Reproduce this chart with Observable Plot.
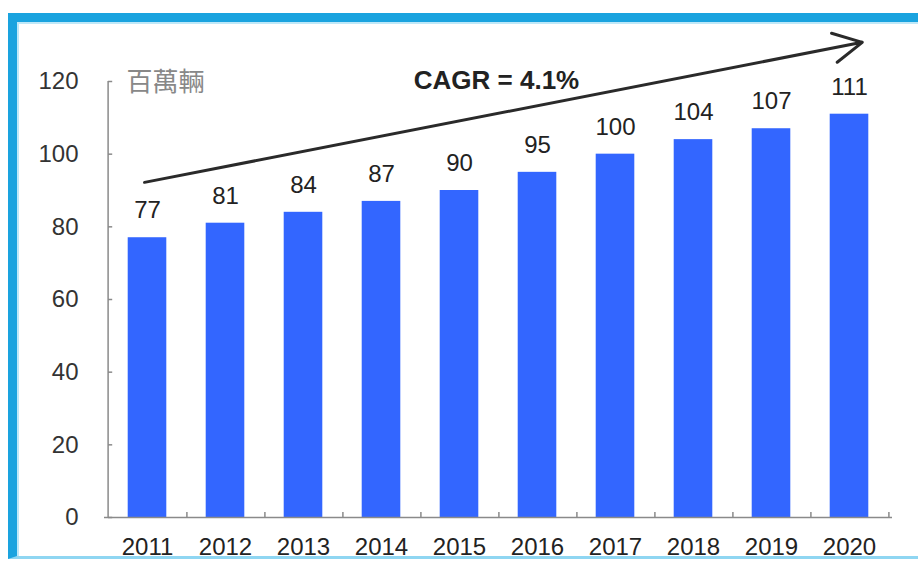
<!DOCTYPE html>
<html>
<head>
<meta charset="utf-8">
<script src="https://cdn.jsdelivr.net/npm/d3@7"></script>
<script src="https://cdn.jsdelivr.net/npm/@observablehq/plot@0.6"></script>
<style>
  html, body { margin: 0; padding: 0; background: #fff; }
  body { width: 918px; height: 563px; position: relative; overflow: hidden; font-family: "Liberation Sans", Arial, sans-serif; }
  #frame { position: absolute; left: 8px; top: 13px; width: 940px; height: 546px;
           border-left: 9px solid #1aa3df; border-top: 9px solid #1aa3df; border-bottom: 3px solid #8fd6f2; box-sizing: border-box; }
  #inner { position: absolute; left: 17px; top: 22px; width: 920px; height: 534px; border-left: 2px solid #bfe8f8; border-top: 2px solid #bfe8f8; box-sizing: border-box; }
  #chart { position: absolute; left: 0; top: 0; }
</style>
</head>
<body>
<div id="frame"></div>
<div id="inner"></div>
<div id="chart"></div>
<script>
const years = ["2011","2012","2013","2014","2015","2016","2017","2018","2019","2020"];
const values = [77, 81, 84, 87, 90, 95, 100, 104, 107, 111];
const yTicks = [0, 20, 40, 60, 80, 100, 120];
const unitLabel = "百萬輛";
const cagrLabel = "CAGR = 4.1%";
const trendStart = {year: "2011", value: 92.4};
const trendEnd = {year: "2020", value: 130.1};

const data = years.map((y, i) => ({year: y, value: values[i]}));
const W = 918, H = 563;
const mL = 104, mR = 26, mT = 81, mB = 46;
const band = (W - mL - mR) / years.length;

const chart = Plot.plot({
  width: W,
  height: H,
  marginLeft: mL,
  marginRight: mR,
  marginTop: mT,
  marginBottom: mB,
  style: {background: "transparent", fontFamily: "'Liberation Sans', Arial, sans-serif", overflow: "visible"},
  x: {type: "band", domain: years, padding: 0},
  y: {domain: [0, 120]},
  marks: [
    Plot.barY(data, {x: "year", y: "value", fill: "#3366FF", insetLeft: band / 4, insetRight: band / 4}),
    // axis lines
    Plot.ruleY([0], {stroke: "#8a8a8a", strokeWidth: 1.5}),
    Plot.ruleX([years[0]], {x: d => d, y1: 0, y2: 120, dx: -band / 2, stroke: "#8a8a8a", strokeWidth: 1.5}),
    // inward y ticks
    Plot.tickY(yTicks, {y: d => d, x: () => years[0], insetRight: band - 5, stroke: "#8a8a8a", strokeWidth: 1.5}),
    // x ticks at category boundaries
    Plot.ruleX(years, {x: d => d, y1: 0, y2: 1.4, dx: band / 2, stroke: "#8a8a8a", strokeWidth: 1.5}),
    Plot.axisY({ticks: yTicks, tickSize: 0, tickPadding: 26, fontSize: 24, color: "#333", label: null}),
    Plot.axisX({tickSize: 0, tickPadding: 20, fontSize: 24, color: "#222", label: null}),
    // value labels
    Plot.text(data, {x: "year", y: "value", text: d => String(d.value), dy: -27, fontSize: 24, fill: "#222"}),
    // unit label
    Plot.text([unitLabel], {x: () => years[0], y: () => 120, text: d => d, textAnchor: "start", dx: -21, dy: 1, fontSize: 26, fill: "#888", fontFamily: "'Noto Sans CJK TC', sans-serif"}),
    // CAGR annotation
    Plot.text([cagrLabel], {x: () => "2015", y: () => 120.3, text: d => d, dx: 37, fontSize: 26, fontWeight: "bold", fill: "#222", style: "letter-spacing:1.2px"}),
    Plot.arrow([{s: trendStart, e: trendEnd}], {
      x1: d => d.s.year, y1: d => d.s.value, x2: d => d.e.year, y2: d => d.e.value,
      insetStart: -3, insetEnd: -13, stroke: "#2a2a2a", strokeWidth: 3, headLength: 16, headAngle: 55
    })
  ]
});
chart.style.overflow = "visible";
document.getElementById("chart").appendChild(chart);
</script>
</body>
</html>
